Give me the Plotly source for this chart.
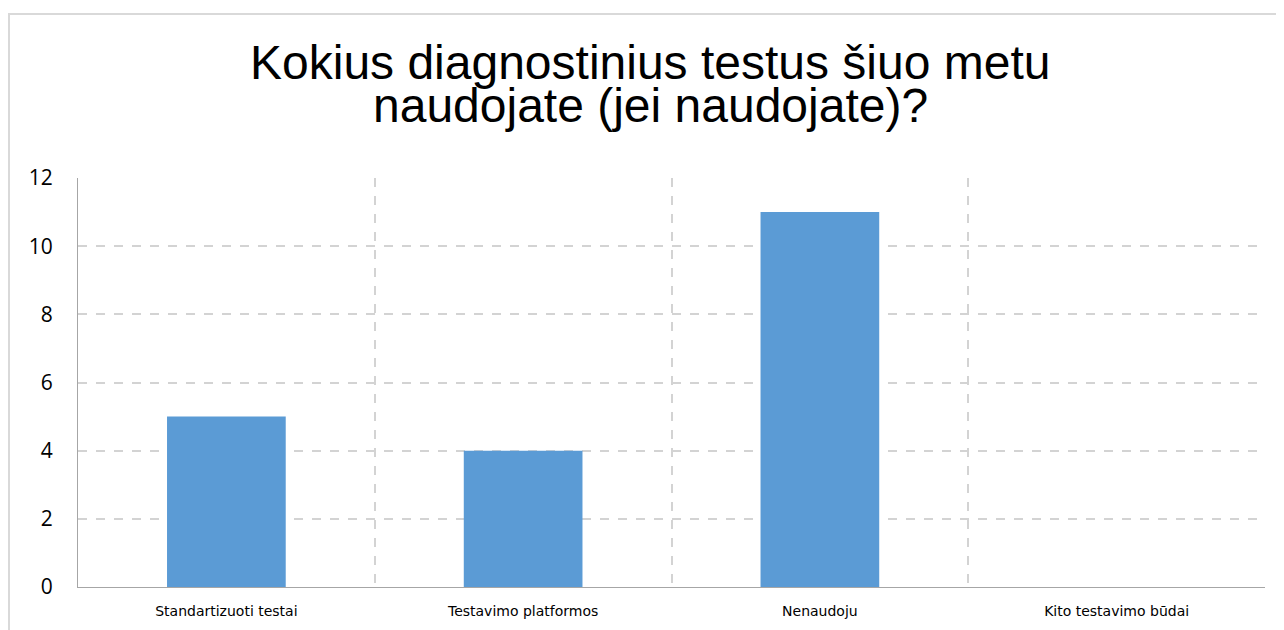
import plotly.graph_objects as go

categories = ["Standartizuoti testai", "Testavimo platformos", "Nenaudoju", "Kito testavimo būdai"]
values = [5, 4, 11, 0]
y_ticks = [0, 2, 4, 6, 8, 10, 12]
title_lines = ["Kokius diagnostinius testus šiuo metu", "naudojate (jei naudojate)?"]

W, H = 1284, 630
L, R, T, B = 70, 27, 170, 51
pw = W - L - R
ph = H - T - B

fig = go.Figure()
fig.add_trace(go.Bar(
    x=list(range(len(categories))), y=values,
    marker=dict(color="#5B9BD5", line=dict(width=0)),
    width=0.40, showlegend=False, hoverinfo="skip",
))
fig.add_trace(go.Scatter(x=[-0.5], y=[0], xaxis="x2", mode="markers",
                         marker=dict(opacity=0), showlegend=False, hoverinfo="skip"))

fig.update_layout(
    width=W, height=H,
    margin=dict(l=L, r=R, t=T, b=B, pad=0),
    paper_bgcolor="white", plot_bgcolor="white",
    xaxis=dict(
        range=[-0.5, len(categories) - 0.5],
        tickmode="array", tickvals=list(range(len(categories))), ticktext=categories,
        showgrid=False, zeroline=False,
        showline=True, linecolor="#A6A6A6", linewidth=1,
        ticks="", ticklabelstandoff=11,
        tickfont=dict(family="DejaVu Sans, sans-serif", size=14, color="#000000"),
    ),
    xaxis2=dict(
        overlaying="x", range=[-0.5, len(categories) - 0.5],
        tickmode="array", tickvals=[i + 0.5 for i in range(len(categories))],
        showticklabels=False, ticks="",
        showgrid=True, gridcolor="#D3D3D3", griddash="dash", gridwidth=1.5,
        zeroline=False, showline=False,
    ),
    yaxis=dict(
        range=[0, 12], tickmode="array", tickvals=y_ticks,
        showgrid=True, gridcolor="#D3D3D3", griddash="dash", gridwidth=1.5,
        zeroline=False, showline=True, linecolor="#A6A6A6", linewidth=1,
        ticks="", ticklabelstandoff=20,
        tickfont=dict(family="Open Sans, sans-serif", size=21, color="#000000"),
    ),
    bargap=0.6,
)

# title as two tightly spaced lines, centred on the chart frame
for line, yc in zip(title_lines, [54, 97]):
    fig.add_annotation(text=line, xref="paper", yref="paper",
                       x=(642 - L) / pw, y=(H - B - yc) / ph, xanchor="center", yanchor="middle",
                       showarrow=False,
                       font=dict(family="Liberation Sans, Arial", size=48, color="#000000"))

# outer chart frame
fig.add_shape(type="rect", xref="paper", yref="paper",
              x0=(1 - L) / pw, x1=1.1, y0=-0.3, y1=1 + (T - 6) / ph,
              line=dict(color="#D9D9D9", width=2), fillcolor="rgba(0,0,0,0)", layer="below")

fig.write_html("out.html")
